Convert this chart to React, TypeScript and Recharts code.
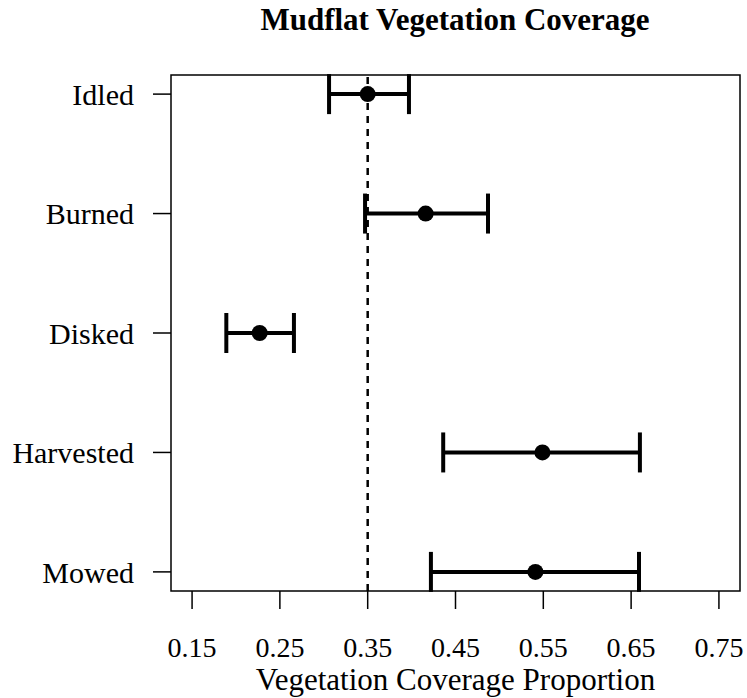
import { ScatterChart, Scatter, XAxis, YAxis, ErrorBar, ReferenceLine, ReferenceArea, Label } from 'recharts';

const categories = ['Idled', 'Burned', 'Disked', 'Harvested', 'Mowed'];
const means = [0.35, 0.416, 0.227, 0.549, 0.541];
const lower = [0.306, 0.347, 0.189, 0.436, 0.422];
const upper = [0.397, 0.487, 0.266, 0.66, 0.659];
const xTicks = [0.15, 0.25, 0.35, 0.45, 0.55, 0.65, 0.75];
const refValue = 0.35;

const font = '"Liberation Serif", "Times New Roman", serif';

function App() {
  const data = categories.map((name, i) => ({
    name,
    pos: i + 1,
    mean: means[i],
    err: [means[i] - lower[i], upper[i] - means[i]],
  }));

  const dot = (props: any) => <circle cx={props.cx} cy={props.cy} r={8} fill="#000" />;

  return (
    <div style={{ position: 'absolute', left: 0, top: 0, width: 747, height: 698 }}>
      <div
        style={{
          position: 'absolute',
          left: 155,
          top: 4,
          width: 600,
          textAlign: 'center',
          fontFamily: font,
          fontWeight: 'bold',
          fontSize: 31,
          lineHeight: '31px',
          color: '#000',
        }}
      >
        Mudflat Vegetation Coverage
      </div>
      <ScatterChart width={747} height={698} margin={{ top: 75, right: 7, bottom: 0, left: 0 }}>
        <XAxis
          type="number"
          dataKey="mean"
          domain={[0.126, 0.774]}
          ticks={xTicks}
          allowDataOverflow
          axisLine={false}
          tickSize={18}
          tickMargin={28}
          tickLine={{ stroke: '#000', strokeWidth: 1.5 }}
          tick={{ fill: '#000', fontSize: 28, fontFamily: font }}
          height={107}
        >
          <Label
            value="Vegetation Coverage Proportion"
            position="insideBottom"
            offset={8}
            style={{ fill: '#000', fontSize: 31, fontFamily: font }}
          />
        </XAxis>
        <YAxis
          type="number"
          dataKey="pos"
          domain={[0.84, 5.16]}
          reversed
          ticks={[1, 2, 3, 4, 5]}
          allowDataOverflow
          tickFormatter={(v: number) => categories[v - 1]}
          axisLine={false}
          tickSize={18}
          tickMargin={19}
          tickLine={{ stroke: '#000', strokeWidth: 1.5 }}
          tick={{ fill: '#000', fontSize: 30, fontFamily: font }}
          width={171}
        />
        <ReferenceArea
          x1={0.126}
          x2={0.774}
          y1={0.84}
          y2={5.16}
          fill="none"
          fillOpacity={0}
          stroke="#000"
          strokeWidth={1.5}
          ifOverflow="visible"
        />
        <ReferenceLine x={refValue} stroke="#000" strokeWidth={2.5} strokeDasharray="7 6" />
        <Scatter data={data} dataKey="mean" shape={dot} isAnimationActive={false}>
          <ErrorBar dataKey="err" direction="x" width={20} strokeWidth={4} stroke="#000" />
        </Scatter>
      </ScatterChart>
    </div>
  );
}

export default App;
